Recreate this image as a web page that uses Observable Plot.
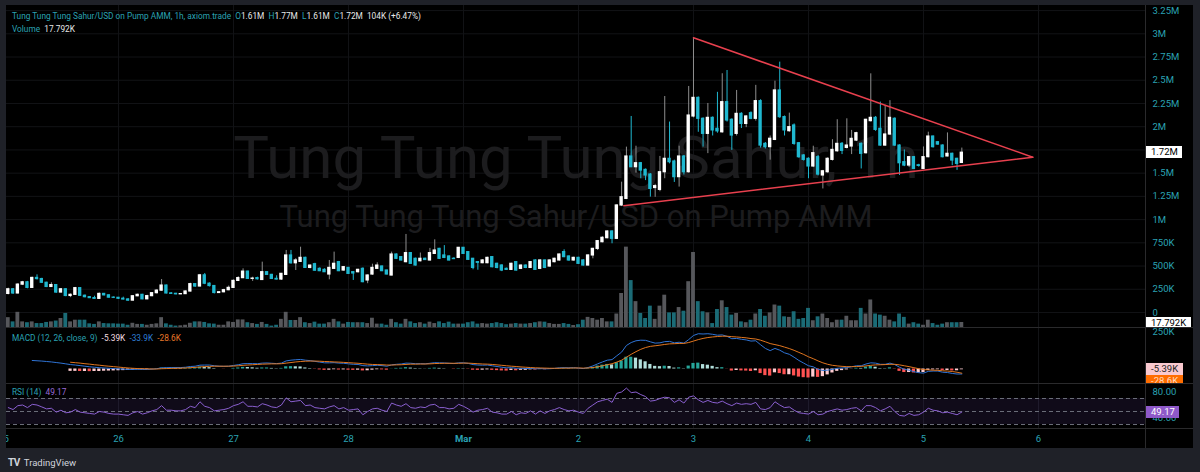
<!DOCTYPE html>
<html>
<head>
<meta charset="utf-8">
<script src="https://cdn.jsdelivr.net/npm/d3@7"></script>
<script src="https://cdn.jsdelivr.net/npm/@observablehq/plot@0.6"></script>
<style>
  html, body { margin:0; padding:0; background:#1f2128; }
  #wrap { position:relative; width:1200px; height:472px; background:#1f2128; overflow:hidden; font-family: Roboto, "Noto Sans", sans-serif; }
  #chart { position:absolute; left:6px; top:5px; width:1187px; height:443px; background:#000; overflow:hidden; }
  .layer { position:absolute; left:0; }
  .layer svg { display:block; }
  .hsep { position:absolute; left:0; width:1187px; height:1px; background:#2a2a2c; }
  .vsep { position:absolute; left:1139px; top:0; width:1px; height:443px; background:#2a2a2c; }
  .legend { position:absolute; left:6px; font-size:8.3px; line-height:10px; white-space:nowrap; color:#2aa2b3; }
  .w { color:#e8e8e8; }
  .axclip { position:absolute; left:1140px; width:47px; overflow:hidden; }
  .box { position:absolute; left:0; height:12px; line-height:12px; font-size:9.5px; padding-left:5px; box-sizing:border-box; white-space:nowrap; }
  #foot { position:absolute; left:8px; top:457px; font-size:9.5px; line-height:12px; color:#d1d4dc; white-space:nowrap; }
  #foot b { font-size:10px; letter-spacing:-0.5px; margin-right:4px; }
</style>
</head>
<body>
<div id="wrap">
  <div id="chart"></div>
  <div id="foot"><b>TV</b>TradingView</div>
</div>
<script>
// ---------------- data (prices in thousands of USD) ----------------
const open = [
200,250,205,300,325,265,372,360,320,275,
295,215,250,178,190,262,180,165,155,147,
200,185,160,158,148,140,128,175,190,142,
176,208,235,290,205,201,196,198,226,305,
280,400,310,285,210,218,240,265,340,370,
440,362,370,350,434,405,362,355,405,614,
530,545,588,480,520,470,459,409,470,542,
452,480,434,434,470,345,409,470,495,452,
398,624,596,542,639,578,552,578,560,631,
685,614,603,578,588,696,650,578,542,531,
531,596,524,506,470,459,542,470,505,480,
560,470,560,495,542,560,650,603,560,588,
560,506,614,685,757,800,872,793,1152,1223,
1679,1564,1607,1535,1485,1340,1320,1510,1654,1625,
1457,1679,1510,2110,2310,2085,1923,2095,1977,1940,
2264,2074,1923,2138,2030,2145,2085,2275,1815,1780,
1858,2390,2103,1952,2013,1822,1690,1654,1572,1672,
1475,1510,1643,1736,1815,1772,1787,1851,1815,1715,
2060,2095,1977,1797,1916,2085,1797,1618,1582,1672,
1585,1546,1672,1894,1833,1797,1680,1708,1654,1610];
const high = [
262,258,310,335,335,380,405,368,325,320,
300,258,255,200,270,265,188,172,175,210,
205,190,168,162,165,150,180,198,195,185,
215,245,355,295,215,206,204,232,315,310,
410,420,318,290,225,250,285,350,385,470,
445,380,380,542,440,410,395,420,668,668,
580,703,595,510,530,480,470,560,650,550,
495,485,440,465,480,405,520,535,500,455,
650,630,600,840,645,585,640,585,690,782,
690,720,610,590,700,700,655,582,548,570,
595,600,530,512,478,530,548,512,512,548,
568,568,565,566,584,630,675,608,595,594,
568,620,690,775,815,880,878,1160,1403,1780,
2110,1790,1615,1545,1495,1380,1680,2325,2050,1640,
1790,1690,2433,2956,2320,2095,2250,2105,2370,2570,
2605,2085,2390,2150,2120,2160,2445,2290,1830,1900,
2490,2695,2115,2146,2030,1830,1700,1665,1790,1690,
1530,1665,1860,2075,1830,2085,1960,1940,1825,2080,
2569,2110,2265,2230,2280,2095,1805,1750,1680,1680,
1595,1782,1941,1900,1840,1805,1933,1715,1660,1770];
const low = [
190,195,200,290,255,260,350,312,268,270,
205,210,170,160,185,172,158,150,140,142,
178,155,150,140,135,120,125,170,138,138,
170,200,230,200,195,190,192,194,220,270,
275,300,275,200,205,212,235,260,335,365,
355,335,350,345,400,355,350,345,400,520,
452,540,475,470,445,440,430,352,465,440,
445,410,345,425,320,310,400,465,440,405,
395,570,555,535,520,500,545,560,555,625,
570,580,555,570,580,625,560,460,455,525,
525,480,470,440,452,452,445,462,472,475,
452,462,472,488,535,552,590,552,552,518,
500,500,578,667,750,793,740,785,1140,1215,
1560,1500,1440,1420,1242,1240,1300,1440,1600,1400,
1350,1480,1500,2095,1940,1780,1710,1900,1930,1930,
2050,1745,1900,1980,1990,2075,2060,1770,1760,1640,
1850,2090,1900,1940,1800,1660,1630,1440,1560,1470,
1330,1500,1630,1725,1700,1760,1700,1840,1545,1705,
2050,1950,1790,1790,1905,1790,1475,1570,1560,1540,
1565,1540,1665,1770,1800,1665,1675,1580,1530,1610];
const close = [
250,205,300,325,265,372,360,320,275,295,
215,250,178,190,262,180,165,155,147,200,
185,160,158,148,140,128,175,190,142,176,
208,235,290,205,201,196,198,226,305,280,
400,310,285,210,218,240,265,340,370,440,
362,365,358,434,405,362,355,416,614,530,
560,588,480,505,450,445,434,480,524,445,
488,416,420,459,327,398,480,505,445,409,
624,578,560,639,524,506,578,565,639,667,
578,588,560,575,696,631,567,480,535,560,
588,488,480,452,459,524,452,505,480,542,
459,560,480,560,578,624,596,560,588,524,
506,614,685,768,804,872,793,1152,1241,1679,
1564,1607,1528,1475,1330,1360,1510,1654,1618,1457,
1679,1510,2120,2310,2085,1923,2095,1960,1950,2264,
2067,1905,2138,2030,2110,2085,2275,1797,1780,1870,
2390,2103,1960,1995,1815,1672,1643,1572,1715,1485,
1520,1654,1750,1815,1740,1797,1869,1930,1708,2074,
2095,1966,1797,1916,2095,1797,1607,1582,1672,1546,
1578,1672,1894,1780,1808,1672,1708,1636,1600,1720];
const volume = [
35,20,54,20,17,20,14,14,18,20,
23,32,50,20,26,26,26,13,11,20,
14,13,13,12,12,8,15,11,11,8,
11,13,35,13,8,5,6,8,15,20,
20,18,13,12,8,8,20,18,27,27,
17,14,11,18,11,5,8,29,54,25,
25,35,17,14,19,12,12,17,29,20,
12,18,17,17,17,14,33,12,12,8,
29,17,12,29,20,14,17,12,19,14,
20,14,19,12,12,12,17,20,12,14,
12,14,17,14,10,12,14,12,12,14,
17,20,19,14,11,11,14,11,7,10,
26,36,32,26,32,20,20,48,121,286,
167,92,50,32,76,29,76,115,52,52,
71,58,163,267,92,56,52,14,64,95,
71,44,50,20,17,26,48,64,40,52,
80,76,38,36,56,29,32,68,24,38,
48,32,17,26,26,40,24,24,68,48,
98,48,44,40,26,20,48,36,12,17,
12,8,26,14,8,12,17,17,17,17.792];
// MACD line starts at candle 5, signal and histogram at candle 13
const macdStart = 5;
const macdLine = [
58,56,54,51,48,44,40,35,30,27,
23,19,15,12,9,7,5,3,1,-1,
-3,-3,-2,-3,-3,-1,2,8,9,10,
10,10,12,17,19,26,27,27,22,19,
18,19,24,29,36,37,37,36,40,41,
39,37,40,55,60,63,65,60,57,52,
47,42,42,43,40,39,35,32,31,23,
21,23,25,23,19,28,32,34,40,39,
36,36,35,39,43,42,41,39,37,42,
42,38,30,27,26,27,22,17,12,8,
9,5,5,3,4,1,3,1,2,4,
8,9,8,9,6,3,10,21,35,48,
60,64,90,115,160,180,192,196,195,185,
176,178,186,188,178,182,176,200,228,240,
238,240,236,230,232,222,206,208,202,198,
190,192,165,140,125,140,128,110,100,80,
58,40,22,15,-2,-10,-8,-2,5,7,
10,15,22,22,34,42,40,32,32,40,
30,12,-2,-8,-18,-25,-28,-16,-14,-14,
-22,-24,-30,-34,-33.9];
const signalStart = 13;
const signalLine = [
46,43,40,36,33,29,26,22,19,16,
13,10,7,5,3,2,1,0,0,2,
3,4,5,6,7,9,11,14,16,18,
19,19,19,19,20,22,25,27,29,31,
33,34,35,35,36,40,44,48,51,53,
54,54,53,51,50,48,47,45,43,41,
39,36,33,31,30,29,27,27,28,29,
31,33,33,34,34,35,37,38,39,39,
39,39,40,40,38,36,34,33,31,28,
25,22,19,17,14,12,10,8,7,6,
5,5,5,6,6,7,7,6,7,10,
15,22,29,36,47,60,80,100,118,134,
146,154,158,162,167,171,172,174,174,180,
190,200,208,214,218,221,223,223,220,218,
215,212,207,204,196,185,173,166,159,149,
139,127,113,99,83,70,55,42,32,25,
21,18,16,16,17,18,21,25,28,29,
30,32,32,28,22,16,9,2,-4,-6,
-8,-9,-12,-14,-17,-22,-28.6];
const histogram = [
-16,-16,-17,-17,-18,-17,-17,-15,-14,-13,
-12,-11,-10,-8,-5,-5,-4,-1,2,6,
6,6,5,4,5,8,8,12,11,9,
3,0,-1,0,4,7,11,10,8,5,
7,7,4,2,4,15,16,15,14,7,
3,-2,-6,-9,-8,-5,-7,-6,-8,-9,
-8,-13,-12,-8,-5,-6,-8,1,4,5,
9,6,3,2,1,4,6,4,2,0,
-2,3,2,-2,-8,-9,-8,-6,-9,-11,
-13,-14,-10,-12,-9,-9,-6,-7,-4,-5,
-3,-1,3,3,2,2,-1,-3,3,11,
20,26,31,28,43,55,80,80,74,62,
49,31,18,16,19,17,6,8,2,20,
38,40,30,26,18,9,9,-1,-14,-10,
-13,-14,-17,-12,-31,-45,-48,-26,-31,-39,
-39,-47,-55,-59,-61,-55,-57,-52,-40,-27,
-16,-11,-6,-1,5,4,13,17,12,3,
2,8,-2,-16,-24,-24,-27,-27,-24,-10,
-6,-5,-10,-10,-13,-12,-5.39];
const rsi = [
56,53,59,60,56,61,60,57,54,55,
49,52,48,49,53,49,48,47,46,50,
49,47,46,46,45,44,48,50,46,48,
51,53,59,52,52,51,51,53,58,56,
65,58,56,51,52,53,55,59,61,65,
58,58,57,62,60,57,56,60,71,65,
66,67,59,60,56,55,54,57,59,54,
56,52,53,54,45,50,54,55,52,50,
63,60,58,62,56,55,57,56,60,61,
56,56,54,55,61,58,54,49,52,53,
55,49,48,46,46,50,45,48,47,51,
46,51,47,51,53,56,53,51,52,49,
47,55,60,65,67,69,64,78,80,86,
79,80,76,73,66,67,70,72,71,64,
68,63,72,74,68,64,67,64,63,66,
62,59,63,61,62,61,64,54,53,56,
65,60,56,57,52,48,47,46,50,45,
46,50,52,54,52,53,55,56,51,59,
59,56,51,54,58,50,44,43,47,44,
45,49,55,52,51,48,49,47,45,49.17];
// triangle drawn on the chart
const triUpperTime = ["2025-03-03T00:00Z", "2025-03-05T22:48Z"];
const triUpperPrice = [2957, 1672];
const triLowerTime = ["2025-03-02T09:27Z", "2025-03-05T22:48Z"];
const triLowerPrice = [1150, 1672];
// axes
const priceTicks = [0,250,500,750,1000,1250,1500,1750,2000,2250,2500,2750,3000,3250];
const priceTickLabels = ["0","250K","500K","750K","1M","1.25M","1.5M","1.75M","2M","2.25M","2.5M","2.75M","3M","3.25M"];
const dayLabels = ["25","26","27","28","Mar","2","3","4","5","6"];
const macdTicks = [250], macdTickLabels = ["250K"];
const rsiTicks = [80, 40], rsiTickLabels = ["80.00", "40.00"];
const rsiLevels = [70, 50, 30];
const lastVolume = 17.792;

// ---------------- setup ----------------
const HOUR = 3600000;
const T0 = Date.UTC(2025, 1, 25, 1);          // first candle: Feb 25, 01:00
const tOf = i => new Date(T0 + i * HOUR);
const MAR1 = Date.UTC(2025, 2, 1);
const xDomain = [new Date(MAR1 - 95.37 * HOUR), new Date(MAR1 + 142.33 * HOUR)];
const dayDates = dayLabels.map((_, k) => new Date(Date.UTC(2025, 1, 25 + k)));
const off = (d, m) => new Date(+d + m * 60000);

const FONT = 'Roboto, "Noto Sans", sans-serif';
const TEAL = "#2aa2b3", GRID = "#121316", WM = "#1c1c1e";
const UP = "#ffffff", UPWICK = "#8e8e8e", DOWN = "#1fb8d0";
const VUP = "#56575b", VDOWN = "#1b6b76";

const candles = open.map((o, i) => ({
  t: tOf(i), o, h: high[i], l: low[i], c: close[i], v: volume[i], up: close[i] >= o
}));
const macdData = macdLine.map((v, k) => ({t: tOf(k + macdStart), v}));
const sigData = signalLine.map((v, k) => ({t: tOf(k + signalStart), v}));
const histData = histogram.map((v, k) => {
  const prev = k > 0 ? histogram[k - 1] : v;
  const col = v >= 0 ? (v >= prev ? "#26a69a" : "#b2dfdb") : (v < prev ? "#ff5252" : "#ffcdd2");
  return {t: tOf(k + signalStart), v, col};
});
const rsiData = rsi.map((v, i) => ({t: tOf(i), v}));
const triUpper = triUpperTime.map((t, k) => ({t: new Date(t), p: triUpperPrice[k]}));
const triLower = triLowerTime.map((t, k) => ({t: new Date(t), p: triLowerPrice[k]}));

const W = 1187, MR = 48;
function opts(h, yDomain, marks) {
  return {
    width: W, height: h, marginLeft: 0, marginRight: MR, marginTop: 0, marginBottom: 0,
    x: {type: "utc", domain: xDomain, axis: null, label: null},
    y: {domain: yDomain, axis: null, label: null},
    color: {type: "identity"},
    style: {background: "transparent", fontFamily: FONT, fontSize: "9.5px", overflow: "visible"},
    marks
  };
}
const lab = (ticks, labels) => { const m = new Map(ticks.map((t, i) => [t, labels[i]])); return d => m.get(d); };
const axis = (ticks, labels) => Plot.axisY(ticks, {anchor: "right", tickSize: 0, tickPadding: 7, color: TEAL,
  label: null, tickFormat: lab(ticks, labels)});

const chart = document.getElementById("chart");
function place(svg, top) {
  const d = document.createElement("div");
  d.className = "layer"; d.style.top = top + "px";
  d.appendChild(svg); chart.appendChild(d);
  return svg;
}

// ---------------- main price pane ----------------
const pricePlot = Plot.plot(opts(322, [-161.5, 3304.6], [
  Plot.ruleY(priceTicks, {stroke: GRID}),
  Plot.ruleX(dayDates, {stroke: GRID}),
  Plot.text(["Tung Tung Tung Sahur, 1h"], {frameAnchor: "top", dy: 130, fontSize: 60, fill: WM}),
  Plot.text(["Tung Tung Tung Sahur/USD on Pump AMM"], {frameAnchor: "top", dy: 199, fontSize: 31, fill: WM}),
  Plot.ruleX(candles, {x: "t", y1: "l", y2: "h", stroke: d => d.up ? UPWICK : DOWN, strokeWidth: 1}),
  Plot.rect(candles, {x1: d => off(d.t, -21), x2: d => off(d.t, 21), y1: "o", y2: "c",
    fill: d => d.up ? UP : DOWN, insetTop: -0.6, insetBottom: -0.6}),
  Plot.line(triUpper, {x: "t", y: "p", stroke: "#e8404e", strokeWidth: 1.5}),
  Plot.line(triLower, {x: "t", y: "p", stroke: "#e8404e", strokeWidth: 1.5}),
  axis(priceTicks, priceTickLabels)
]));
place(pricePlot, 0);

// volume overlay
const volPlot = Plot.plot(opts(322, [0, 1146], [
  Plot.rect(candles, {x1: d => off(d.t, -24), x2: d => off(d.t, 24), y1: 0, y2: "v",
    fill: d => d.up ? VUP : VDOWN})
]));
place(volPlot, 0);

// ---------------- MACD pane ----------------
const macdPlot = Plot.plot(opts(55, [-98.6, 275.5], [
  Plot.ruleX(dayDates, {stroke: GRID}),
  Plot.rect(histData, {x1: d => off(d.t, -20), x2: d => off(d.t, 20), y1: 0, y2: "v", fill: "col"}),
  Plot.line(macdData, {x: "t", y: "v", stroke: "#2f74d6", strokeWidth: 1}),
  Plot.line(sigData, {x: "t", y: "v", stroke: "#e2761f", strokeWidth: 1}),
  axis(macdTicks, macdTickLabels)
]));
place(macdPlot, 323);

// ---------------- RSI pane ----------------
const rsiPlot = Plot.plot(opts(44, [23.85, 91.54], [
  Plot.ruleX(dayDates, {stroke: GRID}),
  Plot.rect([rsiLevels], {x1: () => xDomain[0], x2: () => xDomain[1], y1: d => d[2], y2: d => d[0],
    fill: "rgba(126,87,194,0.13)"}),
  Plot.ruleY(rsiLevels, {stroke: "#6a6d78", strokeDasharray: "4,3", strokeWidth: 1}),
  Plot.line(rsiData, {x: "t", y: "v", stroke: "#8a5fd0", strokeWidth: 1}),
  axis(rsiTicks, rsiTickLabels)
]));
place(rsiPlot, 379);

// ---------------- time axis ----------------
const days = dayDates.map((d, k) => ({d, label: dayLabels[k]}));
const timePlot = Plot.plot(opts(19, [0, 1], [
  Plot.text(days.filter(d => d.label !== "Mar"), {x: "d", text: "label", frameAnchor: "middle", fill: TEAL, clip: true}),
  Plot.text(days.filter(d => d.label === "Mar"), {x: "d", text: "label", frameAnchor: "middle", fill: TEAL, fontWeight: "bold"})
]));
place(timePlot, 424);

// ---------------- separators ----------------
for (const y of [322, 378, 423]) {
  const s = document.createElement("div"); s.className = "hsep"; s.style.top = y + "px"; chart.appendChild(s);
}
const vs = document.createElement("div"); vs.className = "vsep"; chart.appendChild(vs);

// ---------------- price-scale boxes ----------------
function clipArea(top, h) {
  const c = document.createElement("div"); c.className = "axclip";
  c.style.top = top + "px"; c.style.height = h + "px"; chart.appendChild(c); return c;
}
function box(parent, top, w, text, bg, fg) {
  const b = document.createElement("div"); b.className = "box";
  b.style.top = top + "px"; b.style.width = w + "px"; b.style.background = bg; b.style.color = fg;
  b.textContent = text; parent.appendChild(b); return b;
}
const mainClip = clipArea(0, 322);
box(mainClip, pricePlot.scale("y").apply(close[close.length - 1]) - 6, 36, "1.72M", "#ffffff", "#000");
box(mainClip, volPlot.scale("y").apply(lastVolume) - 5, 45, "17.792K", "#ffffff", "#000");
const macdClip = clipArea(323, 55);
const histY = macdPlot.scale("y").apply(histogram[histogram.length - 1]);
box(macdClip, histY - 6, 37, "-5.39K", "#f9c9cf", "#222");
box(macdClip, histY + 6, 37, "-28.6K", "#ff6d00", "#ffd9bf");
const rsiClip = clipArea(379, 44);
box(rsiClip, rsiPlot.scale("y").apply(rsi[rsi.length - 1]) - 6, 33, "49.17", "#8e59c9", "#fff");

// ---------------- legends ----------------
function legend(top, html) {
  const l = document.createElement("div"); l.className = "legend"; l.style.top = top + "px";
  l.innerHTML = html; chart.appendChild(l);
}
legend(6, 'Tung Tung Tung Sahur/USD on Pump AMM, 1h, axiom.trade&nbsp;&nbsp;O<span class="w">1.61M</span>&nbsp;&nbsp;H<span class="w">1.77M</span>&nbsp;&nbsp;L<span class="w">1.61M</span>&nbsp;&nbsp;C<span class="w">1.72M</span>&nbsp;&nbsp;<span class="w">104K (+6.47%)</span>');
legend(19, 'Volume&nbsp;&nbsp;<span class="w">17.792K</span>');
legend(328, 'MACD (12, 26, close, 9)&nbsp;&nbsp;<span style="color:#f3dfe1">-5.39K</span>&nbsp;&nbsp;<span style="color:#2f7fd6">-33.9K</span>&nbsp;&nbsp;<span style="color:#e8782a">-28.6K</span>');
legend(382, 'RSI (14)&nbsp;&nbsp;<span style="color:#9a6bd8">49.17</span>');
</script>
</body>
</html>
